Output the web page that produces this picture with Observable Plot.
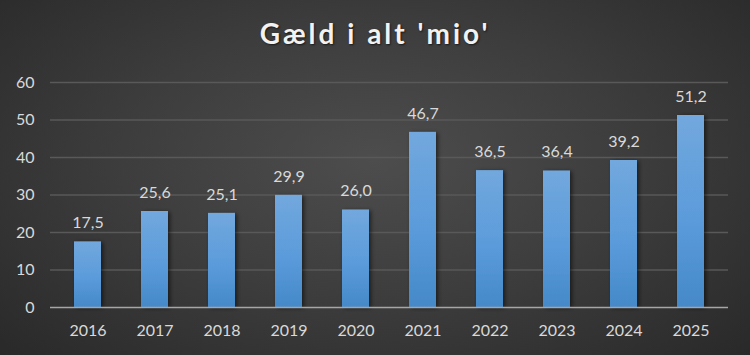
<!DOCTYPE html>
<html>
<head>
<meta charset="utf-8">
<script src="https://cdn.jsdelivr.net/npm/d3@7"></script>
<script src="https://cdn.jsdelivr.net/npm/@observablehq/plot@0.6"></script>
<style>
  html, body { margin: 0; padding: 0; background: #2a2a2a; }
  #wrap {
    position: relative; width: 750px; height: 355px; overflow: hidden;
    background: radial-gradient(ellipse 75% 85% at 50% 45%, #4d4d4d 0%, #3d3d3d 45%, #262626 100%);
    font-family: Lato, "Open Sans", sans-serif;
  }
  #title {
    position: absolute; left: 0; top: 16px; width: 750px; text-align: center;
    color: #f2f2f2; font-size: 28px; line-height: 34px; font-weight: bold; letter-spacing: 3px;
    text-shadow: 1px 1px 2px rgba(0,0,0,0.6);
  }
  #chart { position: absolute; left: 0; top: 0; }
</style>
</head>
<body>
<div id="wrap">
  <div id="chart"></div>
  <div id="title">Gæld i alt 'mio'</div>
</div>
<script>
const years = ["2016","2017","2018","2019","2020","2021","2022","2023","2024","2025"];
const values = [17.5, 25.6, 25.1, 29.9, 26.0, 46.7, 36.5, 36.4, 39.2, 51.2];
const yTicks = [0, 10, 20, 30, 40, 50, 60];

const data = years.map((y, i) => ({year: y, value: values[i]}));
const fmt = v => d3.format(".1f")(v).replace(".", ",");
const txt = "#d9d9d9";

const plot = Plot.plot({
  width: 750,
  height: 355,
  marginLeft: 50,
  marginRight: 22,
  marginTop: 82,
  marginBottom: 48,
  style: {background: "transparent", fontFamily: "Lato, 'Open Sans', sans-serif", fontSize: "16px", color: txt},
  x: {domain: years, paddingInner: 0.6, paddingOuter: 0.3, label: null},
  y: {domain: [0, 60], label: null},
  marks: [
    Plot.gridY(yTicks.filter(d => d > 0), {stroke: "#595959", strokeOpacity: 1, strokeWidth: 1.3}),
    Plot.barY(data, {x: "year", y: "value", fill: "url(#barGrad)"}),
    Plot.ruleY([0], {stroke: "#a6a6a6", strokeWidth: 1.6}),
    Plot.axisY({ticks: yTicks, tickSize: 0, tickPadding: 16, tickFormat: d => String(d), fill: txt, fontSize: 16, label: null}),
    Plot.axisX({tickSize: 0, tickPadding: 17, fill: txt, fontSize: 16, label: null}),
    Plot.text(data, {x: "year", y: "value", text: d => fmt(d.value), dy: -19, fill: txt, fontSize: 16})
  ]
});

const svg = d3.select(plot);
const defs = svg.insert("defs", ":first-child");
const g = defs.append("linearGradient").attr("id", "barGrad").attr("x1", 0).attr("y1", 0).attr("x2", 0).attr("y2", 1);
g.append("stop").attr("offset", "0%").attr("stop-color", "#72a8dd");
g.append("stop").attr("offset", "55%").attr("stop-color", "#5b9bdb");
g.append("stop").attr("offset", "100%").attr("stop-color", "#4589c9");
const f = defs.append("filter").attr("id", "shadow").attr("x", "-30%").attr("y", "-10%").attr("width", "170%").attr("height", "130%");
f.append("feDropShadow").attr("dx", 2).attr("dy", 1).attr("stdDeviation", 2.2).attr("flood-color", "#000").attr("flood-opacity", 0.55);
svg.selectAll("rect").filter(function() { return this.getAttribute("fill") === "url(#barGrad)" || (this.parentNode && this.parentNode.getAttribute("fill") === "url(#barGrad)"); }).attr("filter", "url(#shadow)");

document.getElementById("chart").appendChild(plot);
</script>
</body>
</html>
